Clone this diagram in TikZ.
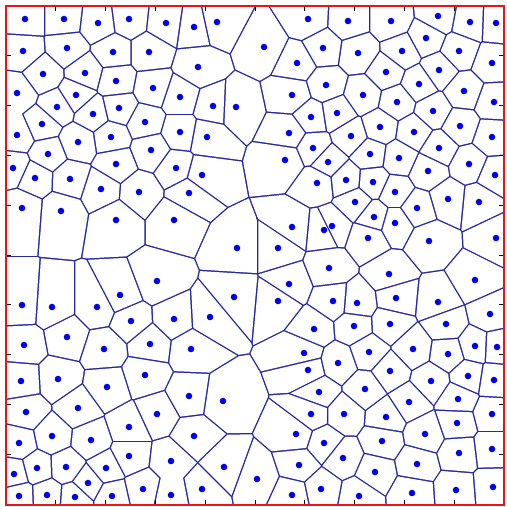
\documentclass[tikz,border=0pt]{standalone}
\definecolor{edgeblue}{RGB}{40,40,165}
\definecolor{siteblue}{RGB}{0,0,240}
\definecolor{framered}{RGB}{235,20,20}
\newcommand\voronoisites{25/19, 64/19, 98/23, 129/19, 166/23, 194/27, 217/22, 308/19, 264/47, 323/48, 297/63, 198/67, 326/85, 180/97, 213/106, 236/107, 292/95, 337/113, 311/117, 180/132, 207/137, 289/133, 313/148, 176/168, 202/175, 285/160, 328/162,
23/51, 67/48, 113/52, 149/52, 43/74, 85/73, 116/81, 153/88, 17/93, 76/95, 57/107, 93/114, 119/108, 145/122, 42/124, 17/135, 78/142, 111/137, 151/150, 48/154, 13/168, 116/164,
348/21, 391/21, 438/16, 470/22, 496/23, 358/53, 402/51, 426/38, 459/51, 492/63, 386/72, 439/70, 419/84, 464/91, 363/95, 494/102, 397/102, 433/111, 460/126, 380/127, 351/136, 492/137, 414/132, 370/154, 399/158, 439/148, 469/164, 428/171, 495/175,
35/178, 70/179, 101/189, 139/192, 22/208, 61/211, 116/220, 174/220, 157/281, 120/295, 22/305, 52/307, 97/307, 131/321, 174/319, 67/337,
189/193, 317/183, 292/227, 324/230, 332/226, 237/248, 278/248, 329/268, 289/284, 234/297, 278/301, 333/301, 210/317, 314/329,
346/180, 373/182, 395/192, 355/202, 374/217, 395/223, 417/208, 448/199, 479/202, 368/238, 429/241, 496/238, 389/274, 475/280, 357/303, 396/298, 438/302, 490/314, 354/326, 390/324, 446/324,
24/345, 104/349, 150/344, 21/381, 58/379, 107/387, 145/375, 26/412, 78/408, 157/414, 129/427, 19/443, 52/436, 91/440, 129/456, 37/468, 66/467, 14/474, 106/468, 88/483, 171/461, 143/489, 19/496, 47/495, 75/497, 112/496, 171/495,
191/349, 304/353, 308/370, 338/363, 189/396, 223/401, 319/392, 311/414, 194/436, 296/434, 324/443, 224/467, 299/465, 257/479, 202/489, 292/495, 321/489,
369/352, 413/349, 448/354, 475/346, 497/347, 390/371, 431/381, 468/376, 494/380, 365/389, 409/402, 458/399, 344/414, 386/417, 457/423, 492/414, 425/434, 382/441, 492/449, 459/453, 343/458, 417/464, 375/472, 456/490, 493/487, 412/493, 359/496}
\newcommand\cellgap{0.75}

\begin{document}
\begin{tikzpicture}[x=0.3mm, y=0.3mm, yscale=-1,
    cellface/.style={fill=white},
    sitedot/.style={fill=siteblue},
    edgetick/.style={draw=black, line width=0.3mm},
    plotframe/.style={draw=framered, line width=0.6mm}
]
\useasboundingbox (0,0) rectangle (506,507);
\fill[edgeblue] (6,6) rectangle (504,505);

\foreach \xa/\ya in \voronoisites {
  \begin{scope}
    \clip (6,6) rectangle (504,505);
    \foreach \xb/\yb in \voronoisites {
      \ifnum\numexpr(\xa-\xb)*(\xa-\xb)+(\ya-\yb)*(\ya-\yb)\relax>0
      \ifnum\numexpr(\xa-\xb)*(\xa-\xb)+(\ya-\yb)*(\ya-\yb)\relax<19600
        \pgfmathsetmacro\ang{atan2(\yb-\ya,\xb-\xa)}
        \pgfmathsetmacro\xr{\xa+0.5*veclen(\xb-\xa,\yb-\ya)-\cellgap}
        \clip[rotate around={\ang:(\xa,\ya)}] (\xa-800,\ya-800) rectangle (\xr,\ya+800);
      \fi\fi
    }
    \fill[cellface] (0,0) rectangle (510,510);
  \end{scope}
}

\foreach \x/\y in \voronoisites
  \fill[sitedot] (\x,\y) circle (0.98mm);

\foreach \k in {1,...,9} {
  \pgfmathsetmacro\t{6+49.8*\k}
  \draw[edgetick] (\t,7) -- (\t,11);
  \draw[edgetick] (\t,504) -- (\t,500);
  \draw[edgetick] (7,\t) -- (11,\t);
  \draw[edgetick] (503,\t) -- (499,\t);
}
\draw[plotframe] (6,6) rectangle (504,505);
\end{tikzpicture}
\end{document}
